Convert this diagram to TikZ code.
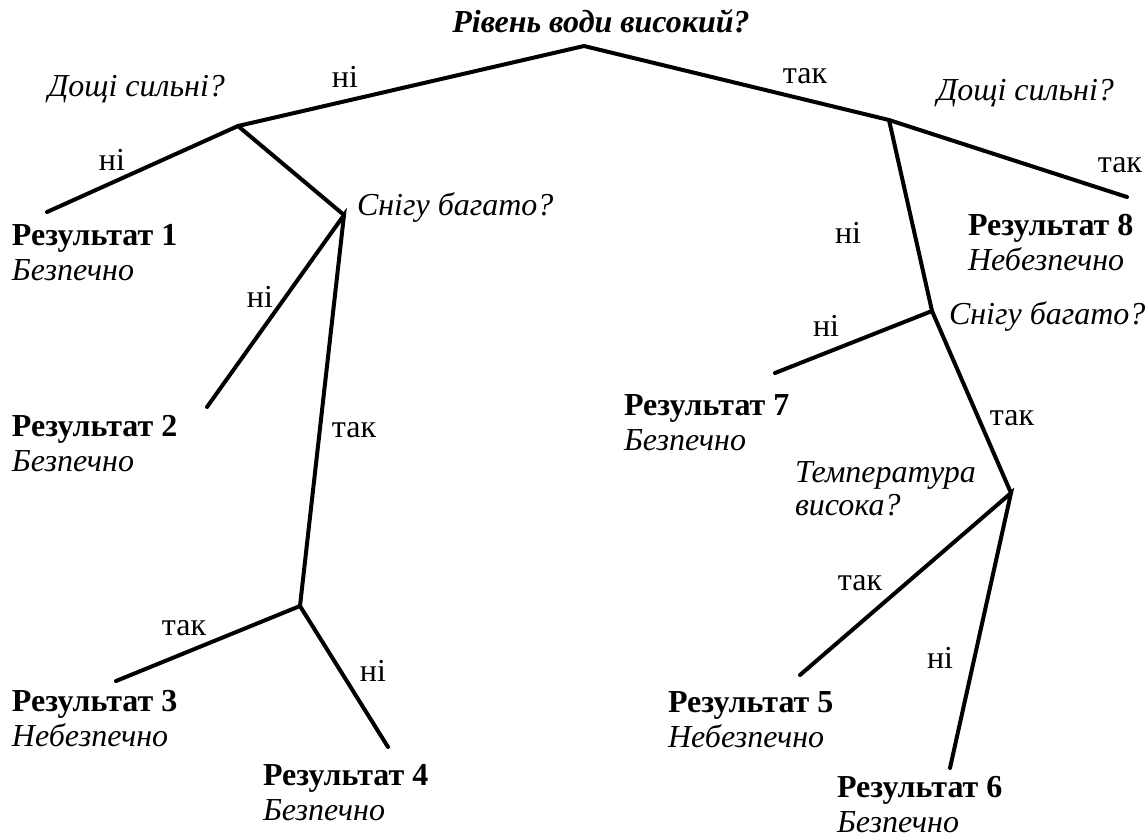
\documentclass[tikz,border=0pt]{standalone}
\usepackage{fontspec}
\setmainfont{Liberation Serif}
\begin{document}
\begin{tikzpicture}[x=1pt,y=-1pt,
  every node/.style={inner sep=0pt,outer sep=0pt},
  edge/.style={line width=4pt,line cap=round},
  lab/.style={font=\fontsize{32}{35}\selectfont},
  ques/.style={font=\fontsize{32}{35}\selectfont\itshape,anchor=west},
  result/.style={font=\fontsize{32}{35}\selectfont,align=left,anchor=west}]
\useasboundingbox (0,0) rectangle (1148,839);
% branch points
\coordinate (R) at (584,46);
\coordinate (A) at (238,126);
\coordinate (B) at (344,215);
\coordinate (C) at (300,606);
\coordinate (D) at (889,120);
\coordinate (E) at (932,311);
\coordinate (F) at (1011,493);
% leaf ends
\coordinate (e1) at (47,212);
\coordinate (e2) at (207,407);
\coordinate (e3) at (116,681);
\coordinate (e4) at (388,747);
\coordinate (e5) at (800,675);
\coordinate (e6) at (950,768);
\coordinate (e7) at (775,373);
\coordinate (e8) at (1127,197);
% edges
\draw[edge] (A) -- (R) -- (D);
\draw[edge] (e1) -- (A) -- (B);
\draw[edge] (e2) -- (B) -- (C);
\draw[edge] (e3) -- (C) -- (e4);
\draw[edge] (D) -- (e8);
\draw[edge] (D) -- (E);
\draw[edge] (e7) -- (E) -- (F);
\draw[edge] (e5) -- (F) -- (e6);
% questions
\node[font=\fontsize{32}{35}\selectfont\bfseries\itshape] (q0) at (601,21) {Рівень води високий?};
\node[ques] (q1) at (48,89) {Дощі сильні?};
\node[ques] (q2) at (937,93) {Дощі сильні?};
\node[ques] (q3) at (357,207) {Снігу багато?};
\node[ques] (q4) at (949,316) {Снігу багато?};
\node[ques,align=left,font=\fontsize{32}{33}\selectfont\itshape] (q5) at (795,489) {Температура\\висока?};
% edge labels
\node[lab] (l1) at (345,77) {ні};
\node[lab] (l2) at (805,76) {так};
\node[lab] (l3) at (112,160) {ні};
\node[lab,anchor=east] (l4) at (1142,165) {так};
\node[lab] (l5) at (260,297) {ні};
\node[lab] (l6) at (354,430) {так};
\node[lab] (l7) at (184,628) {так};
\node[lab] (l8) at (373,671) {ні};
\node[lab] (l9) at (848,233) {ні};
\node[lab] (l10) at (826,326) {ні};
\node[lab] (l11) at (1012,418) {так};
\node[lab] (l12) at (860,583) {так};
\node[lab] (l13) at (940,658) {ні};
% results
\node[result] (r1) at (12,253) {\textbf{Результат 1}\\\textit{Безпечно}};
\node[result] (r2) at (12,444) {\textbf{Результат 2}\\\textit{Безпечно}};
\node[result] (r3) at (12,719) {\textbf{Результат 3}\\\textit{Небезпечно}};
\node[result] (r4) at (263,793) {\textbf{Результат 4}\\\textit{Безпечно}};
\node[result] (r5) at (668,720) {\textbf{Результат 5}\\\textit{Небезпечно}};
\node[result] (r6) at (837,805) {\textbf{Результат 6}\\\textit{Безпечно}};
\node[result] (r7) at (624,423) {\textbf{Результат 7}\\\textit{Безпечно}};
\node[result] (r8) at (968,243) {\textbf{Результат 8}\\\textit{Небезпечно}};
\end{tikzpicture}
\end{document}
